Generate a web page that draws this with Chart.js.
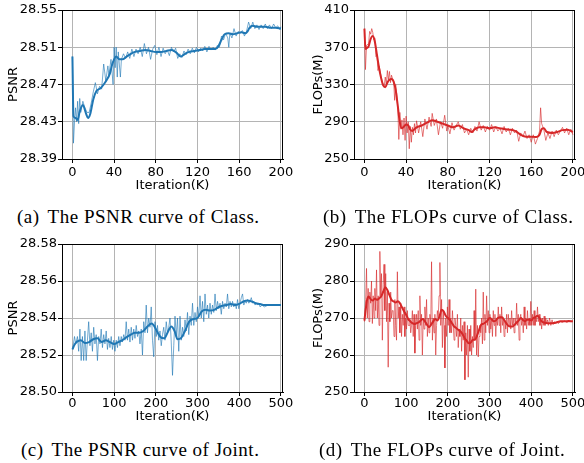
<!DOCTYPE html>
<html>
<head>
<meta charset="utf-8">
<script src="https://cdn.jsdelivr.net/npm/chart.js@4.4.1/dist/chart.umd.min.js"></script>
<style>
  body { margin: 0; background: #fff; width: 584px; height: 463px; position: relative; overflow: hidden; }
  canvas { position: absolute; }
  .cap { position: absolute; font-family: "Liberation Serif", "Times New Roman", serif; font-size: 19px; line-height: 19px;
         letter-spacing: 0.5px; white-space: pre; color: #000; }
  .cap span { margin-left: 8px; }
</style>
</head>
<body>
<canvas id="plot-a" width="300" height="196" style="left:0;top:0"></canvas>
<canvas id="plot-b" width="300" height="196" style="left:292px;top:0"></canvas>
<canvas id="plot-c" width="300" height="195" style="left:0;top:234px"></canvas>
<canvas id="plot-d" width="300" height="195" style="left:292px;top:234px"></canvas>

<div class="cap" style="left:17px;top:207px">(a)<span>The PSNR curve of Class.</span></div>
<div class="cap" style="left:323px;top:207px">(b)<span>The FLOPs curve of Class.</span></div>
<div class="cap" style="left:21px;top:440px">(c)<span>The PSNR curve of Joint.</span></div>
<div class="cap" style="left:319px;top:440px">(d)<span>The FLOPs curve of Joint.</span></div>

<script>
// tick values
const classIterTicks = [0, 40, 80, 120, 160, 200];
const jointIterTicks = [0, 100, 200, 300, 400, 500];
const classPsnrTicks = [28.39, 28.43, 28.47, 28.51, 28.55];
const classFlopsTicks = [250, 290, 330, 370, 410];
const jointPsnrTicks = [28.50, 28.52, 28.54, 28.56, 28.58];
const jointFlopsTicks = [250, 260, 270, 280, 290];

// [iteration(K), value] pairs
const classPsnrRaw = [[0,28.500],[1,28.407],[2,28.430],[3,28.445],[4,28.430],[5,28.452],[6,28.428],[7,28.455],[8,28.440],
  [10,28.452],[12,28.445],[14,28.440],[16,28.440],[18,28.450],[20,28.462],[22,28.472],[24,28.460],[26,28.468],[28,28.465],
  [30,28.492],[32,28.474],[34,28.490],[35,28.480],[37,28.497],[39,28.470],[40,28.510],[41,28.488],[42,28.510],[43,28.478],
  [44,28.505],[46,28.478],[47,28.497],[49,28.503],[51,28.498],[53,28.505],[55,28.498],[57,28.508],[59,28.500],[61,28.508],
  [63,28.503],[65,28.510],[67,28.500],[69,28.514],[71,28.503],[73,28.510],[75,28.497],[77,28.508],[79,28.512],[81,28.502],
  [83,28.510],[85,28.500],[87,28.509],[89,28.503],[91,28.507],[93,28.501],[95,28.510],[97,28.505],[99,28.509],[101,28.498],
  [103,28.503],[105,28.499],[107,28.506],[109,28.502],[111,28.508],[113,28.503],[115,28.509],[117,28.504],[119,28.510],
  [121,28.505],[123,28.509],[125,28.506],[127,28.511],[129,28.505],[131,28.511],[133,28.507],[135,28.510],[137,28.507],
  [139,28.512],[141,28.510],[143,28.522],[145,28.518],[147,28.525],[149,28.520],[150,28.510],[151,28.525],[153,28.520],
  [155,28.530],[157,28.522],[159,28.527],[161,28.525],[163,28.528],[165,28.522],[167,28.527],[169,28.537],[171,28.530],
  [173,28.537],[175,28.530],[177,28.534],[179,28.529],[181,28.534],[183,28.530],[185,28.535],[187,28.530],[189,28.534],
  [191,28.530],[193,28.535],[195,28.531],[197,28.533],[199,28.529],[200,28.532]];
const classPsnrSmooth = [[0,28.500],[1,28.436],[3,28.434],[5,28.432],[7,28.441],[10,28.448],[13,28.439],[15,28.434],
  [17,28.438],[20,28.454],[23,28.463],[27,28.466],[30,28.470],[33,28.475],[36,28.482],[38,28.491],[40,28.497],[42,28.500],
  [45,28.497],[48,28.497],[52,28.500],[56,28.503],[60,28.505],[65,28.506],[70,28.507],[75,28.506],[80,28.505],[85,28.505],
  [90,28.506],[95,28.507],[100,28.504],[104,28.500],[108,28.503],[112,28.505],[117,28.506],[122,28.507],[127,28.508],
  [132,28.508],[137,28.508],[140,28.511],[143,28.518],[146,28.524],[150,28.525],[154,28.524],[158,28.525],[162,28.526],
  [166,28.525],[168,28.527],[170,28.531],[173,28.533],[177,28.532],[181,28.532],[185,28.532],[190,28.531],[195,28.531],
  [200,28.530]];

const classFlopsRaw = [[0,390],[1,346],[2,372],[4,374],[5,387],[6,384],[7,390],[8,386],[9,378],[10,380],[11,360],[12,362],
  [13,345],[14,350],[15,345],[16,338],[17,333],[18,330],[19,328],[20,338],[21,330],[22,345],[23,335],[24,344],[25,332],
  [26,340],[27,336],[28,335],[29,313],[30,330],[31,320],[32,305],[33,271],[34,300],[35,282],[36,292],[37,276],[38,294],
  [39,270],[40,296],[41,278],[42,290],[43,261],[44,285],[45,268],[46,284],[47,276],[48,288],[49,278],[50,291],[52,278],
  [54,290],[56,274],[58,293],[60,282],[62,295],[64,285],[65,299],[67,286],[69,293],[71,276],[73,290],[75,283],[77,297],
  [79,280],[80,286],[82,277],[84,289],[86,281],[88,286],[90,290],[92,282],[94,287],[96,278],[98,282],[100,276],[102,283],
  [104,278],[106,285],[108,280],[110,290],[112,281],[114,286],[116,279],[118,285],[120,281],[122,287],[124,279],[126,285],
  [128,280],[130,283],[132,277],[134,285],[136,279],[138,283],[140,276],[142,283],[144,278],[146,281],[148,269],[150,278],
  [152,274],[154,280],[156,272],[158,276],[160,268],[162,276],[164,266],[166,272],[168,280],[169,305],[170,288],[172,282],
  [174,270],[176,278],[178,272],[180,280],[182,274],[184,281],[186,276],[188,280],[190,284],[192,278],[194,283],[196,276],
  [198,282],[200,276]];
const classFlopsSmooth = [[0,390],[1,368],[2,369],[4,371],[6,379],[8,382],[10,376],[12,362],[14,348],[16,337],[18,329],
  [20,327],[22,332],[24,335],[26,336],[28,333],[30,324],[32,307],[34,289],[36,283],[38,285],[40,287],[42,286],[44,281.5],
  [46,280],[48,282],[50,284],[55,286],[60,289],[65,291.5],[70,290],[75,288],[80,286],[85,284],[90,286],[95,283],[100,281],
  [103,279],[106,282],[110,284],[115,284],[120,283],[125,284],[130,283],[135,282],[140,281.5],[145,280],[150,276],
  [155,274],[160,274],[165,273.5],[168,276],[170,282],[172,283],[175,279],[180,278],[185,279],[190,281],[195,281.5],
  [200,279]];

const jointPsnrRaw = [[0,28.523],[3,28.527],[5,28.530],[8,28.526],[12,28.530],[15,28.522],[18,28.534],[21,28.517],
  [24,28.530],[27,28.517],[30,28.533],[33,28.517],[36,28.528],[39,28.538],[42,28.525],[45,28.532],[48,28.522],[51,28.535],
  [54,28.526],[57,28.531],[60,28.517],[63,28.530],[66,28.526],[69,28.534],[72,28.524],[75,28.531],[78,28.526],[81,28.533],
  [84,28.523],[87,28.529],[90,28.524],[93,28.530],[96,28.523],[99,28.528],[102,28.522],[105,28.528],[108,28.524],
  [111,28.530],[114,28.525],[117,28.530],[120,28.527],[123,28.531],[126,28.528],[129,28.538],[132,28.528],[135,28.534],
  [138,28.527],[141,28.535],[144,28.528],[147,28.534],[150,28.529],[153,28.536],[156,28.530],[159,28.533],[162,28.526],
  [165,28.534],[168,28.520],[171,28.538],[174,28.532],[177,28.547],[180,28.532],[183,28.540],[186,28.535],[189,28.546],
  [192,28.528],[195,28.519],[198,28.538],[201,28.530],[204,28.536],[207,28.528],[210,28.533],[213,28.525],[216,28.531],
  [219,28.535],[222,28.528],[225,28.538],[228,28.532],[231,28.535],[234,28.540],[237,28.527],[240,28.509],[243,28.525],
  [246,28.541],[249,28.530],[252,28.540],[255,28.522],[258,28.541],[261,28.528],[264,28.535],[267,28.530],[270,28.539],
  [273,28.533],[276,28.543],[279,28.531],[282,28.541],[285,28.536],[288,28.548],[291,28.536],[294,28.543],[297,28.538],
  [300,28.546],[303,28.541],[306,28.552],[309,28.540],[312,28.549],[315,28.538],[318,28.553],[321,28.542],[324,28.547],
  [327,28.540],[330,28.548],[333,28.542],[336,28.547],[339,28.543],[342,28.553],[345,28.544],[348,28.549],[351,28.545],
  [354,28.548],[357,28.542],[360,28.549],[363,28.545],[366,28.548],[369,28.546],[372,28.553],[375,28.545],[378,28.549],
  [381,28.546],[384,28.549],[387,28.546],[390,28.548],[393,28.545],[396,28.550],[399,28.545],[402,28.548],[405,28.551],
  [408,28.553],[411,28.547],[414,28.549],[417,28.548],[420,28.550],[423,28.548],[426,28.549],[429,28.551],[432,28.548],
  [435,28.549],[438,28.547],[441,28.548],[444,28.547],[447,28.548],[450,28.546],[455,28.547],[460,28.546],[470,28.547],
  [480,28.547],[490,28.547],[500,28.547]];
const jointPsnrSmooth = [[0,28.523],[5,28.5255],[10,28.527],[20,28.528],[30,28.5265],[40,28.527],[50,28.5285],[60,28.529],
  [70,28.527],[80,28.528],[90,28.527],[100,28.526],[110,28.527],[120,28.528],[130,28.5297],[140,28.531],[150,28.532],
  [160,28.532],[170,28.533],[180,28.5354],[190,28.537],[195,28.536],[200,28.534],[210,28.530],[220,28.529],[230,28.533],
  [237,28.5354],[245,28.533],[252,28.5285],[260,28.529],[270,28.533],[280,28.538],[290,28.5394],[300,28.540],[310,28.5435],
  [320,28.5444],[330,28.544],[340,28.5444],[350,28.5458],[360,28.5466],[370,28.547],[380,28.5476],[390,28.547],
  [400,28.5476],[410,28.5489],[420,28.5494],[430,28.5489],[440,28.548],[450,28.5476],[460,28.547],[480,28.547],
  [500,28.547]];

const jointFlopsRaw = [[0,269],[3,275],[5,283.4],[7,270],[9,278],[11,269],[13,277],[15,274],[17,280],[19,268.5],[21,276],
  [23,270],[25,278],[27,272],[29,283],[31,270],[33,276],[35,268],[37,288],[39,276],[41,282],[43,264],[45,279],[47,284.5],
  [49,272],[51,282],[53,269],[55,277],[57,256.7],[59,274],[61,269],[63,277],[65,270],[67,272],[69,272],[71,265],[73,275],
  [75,268],[77,264],[79,282.5],[81,270],[83,273],[85,266],[87,274],[89,265],[91,271],[93,268],[95,273],[97,265],[99,270],
  [101,267],[103,272],[105,268],[107,268],[109,270],[111,266],[113,268],[115,272],[117,265],[119,271],[121,260.5],[123,268],
  [125,271],[127,267],[129,272],[131,264],[133,276],[135,268],[137,271],[139,260],[141,270],[143,267],[145,273],[147,268],
  [149,275],[151,265],[153,270],[155,266],[157,271],[159,268],[161,285.2],[163,264],[165,270],[167,266],[169,271],[171,260],
  [173,268],[175,272],[177,270],[179,276],[181,285],[183,268],[185,275],[187,262],[189,272],[191,268],[193,256.5],[195,270],
  [197,265],[199,273],[201,268],[203,275],[205,266],[207,270],[209,266],[211,272],[213,268],[215,264],[217,270],[219,268],
  [221,265],[223,271],[225,262],[227,267],[229,265],[231,270],[233,261],[235,268],[237,264],[239,269],[241,253.3],[243,266],
  [245,260],[247,268],[249,254],[251,267],[253,261],[255,268],[257,260],[259,265],[261,262],[263,272],[265,264],[267,277.8],
  [269,260],[271,268],[273,259.5],[275,265],[277,268],[279,266],[281,270],[283,263],[285,277],[287,264],[289,271],[291,266],
  [293,276],[295,268],[297,272],[299,266],[301,271],[303,267],[305,270],[307,265],[309,272],[311,268],[313,271],[315,265],
  [317,270],[319,268],[321,273],[323,268],[325,271],[327,266],[329,273],[331,268],[333,270],[335,265],[337,269],[339,267],
  [341,271],[343,266],[345,271],[347,268],[349,270],[351,267],[353,272],[355,268],[357,270],[359,266],[361,270],[363,268],
  [365,274],[367,268],[369,271],[371,264],[373,270],[375,271],[377,268],[379,270],[381,266],[383,273],[385,268],[387,270],
  [389,267],[391,272],[393,268],[395,270],[397,268],[399,274.5],[401,268],[403,271],[405,268],[407,272],[409,268],[411,270],
  [413,269],[415,273],[417,269],[419,271],[421,268],[423,270],[425,267],[427,270],[429,268],[431,270.5],[433,268],[435,270],
  [437,268.5],[439,269.5],[441,268],[444,270],[447,268],[450,269.5],[453,268.3],[456,269],[459,268.5],[462,269],[465,268.5],
  [470,269],[475,268.8],[480,269.2],[485,268.8],[490,269],[495,269],[500,269]];
const jointFlopsSmooth = [[0,269.3],[3,272.2],[6,274.7],[10,275.8],[15,275.1],[20,274.7],[25,275.3],[30,274.9],[35,275.3],
  [40,275.8],[45,277.1],[50,278.3],[55,277.6],[60,276.2],[65,274.9],[70,274.5],[75,274.2],[80,274.5],[85,274],[90,272.9],
  [95,271.8],[100,270.9],[105,269.7],[110,269.1],[115,268.6],[120,268.4],[125,268.6],[130,268.8],[135,269.3],[140,269.7],
  [145,269.1],[150,268.2],[155,267.5],[160,268.2],[165,269.1],[170,269.7],[175,269.3],[180,270.4],[185,272.2],[190,271.8],
  [195,270.6],[200,270],[205,269.5],[210,268.6],[215,267.7],[220,267.3],[225,266.8],[230,266.4],[235,265.7],[240,264.6],
  [245,263.9],[250,263.2],[255,263.4],[260,264.1],[265,264.1],[270,265.2],[275,266.8],[280,268.2],[285,268.4],[290,268.8],
  [295,269.3],[300,270],[305,269.7],[310,269.1],[315,269.3],[320,270],[325,270.2],[330,270.2],[335,269.5],[340,268.6],
  [345,267.9],[350,267.7],[355,267.7],[360,268.2],[365,268.8],[370,269.3],[375,270],[380,269.5],[385,269.1],[390,269.5],
  [395,269.5],[400,269.3],[405,270],[410,270.2],[415,270.6],[420,270],[425,269.1],[430,268.8],[440,268.6],[450,268.6],
  [460,268.8],[470,269.1],[480,269.1],[490,269.2],[500,269.1]];

const BLUE = '#1f77b4', BLUE_LIGHT = 'rgba(31,119,180,0.62)';
const RED = '#d62728', RED_LIGHT = 'rgba(214,39,40,0.62)';
const GRID = '#b4b4b4';
const tickFont = { family: 'DejaVu Sans', size: 13 };

const toXY = pairs => pairs.map(([x, y]) => ({ x, y }));

// black box round the plot area
const framePlugin = {
  id: 'frame',
  afterDraw(chart) {
    const a = chart.chartArea;
    const ctx = chart.ctx;
    ctx.save();
    ctx.strokeStyle = '#000';
    ctx.lineWidth = 1;
    ctx.strokeRect(a.left + 0.5, a.top + 0.5, a.right - a.left - 1, a.bottom - a.top);
    ctx.restore();
  }
};

function makePlot(id, p) {
  new Chart(document.getElementById(id), {
    type: 'line',
    data: {
      datasets: [
        { data: toXY(p.smooth), borderColor: p.color, borderWidth: 2, pointRadius: 0,
          cubicInterpolationMode: 'monotone', order: 1 },
        { data: toXY(p.raw), borderColor: p.light, borderWidth: 1, pointRadius: 0, tension: 0, order: 2 }
      ]
    },
    options: {
      responsive: false,
      animation: false,
      events: [],
      layout: { padding: { left: 0, top: 10, right: 17, bottom: 0 } },
      plugins: { legend: { display: false }, tooltip: { enabled: false } },
      scales: {
        x: {
          type: 'linear', min: p.xMin, max: p.xMax,
          afterBuildTicks: s => { s.ticks = p.xTicks.map(v => ({ value: v })); },
          afterFit: s => { s.height = p.xAxisH; },
          ticks: { font: tickFont, color: '#000', padding: p.xTickPad, maxRotation: 0, autoSkip: false,
                   callback: v => String(v) },
          grid: { color: GRID, lineWidth: 1, tickColor: '#000', tickLength: 4 },
          border: { color: '#000', width: 1 },
          title: { display: true, text: 'Iteration(K)', font: tickFont, color: '#000',
                   padding: { top: 0, bottom: p.xTitlePad } }
        },
        y: {
          type: 'linear', min: p.yTicks[0], max: p.yTicks[p.yTicks.length - 1],
          afterBuildTicks: s => { s.ticks = p.yTicks.map(v => ({ value: v })); },
          afterFit: s => { s.width = 62; },
          ticks: { font: tickFont, color: '#000', padding: 1, autoSkip: false, callback: p.yFmt },
          grid: { color: GRID, lineWidth: 1, tickColor: '#000', tickLength: 4 },
          border: { color: '#000', width: 1 },
          title: { display: true, text: p.yLabel, font: tickFont, color: '#000',
                   padding: { top: p.yTitlePad, bottom: 0 } }
        }
      }
    },
    plugins: [framePlugin]
  });
}

const psnrFmt = v => v.toFixed(2);
const flopsFmt = v => String(v);

makePlot('plot-a', { raw: classPsnrRaw, smooth: classPsnrSmooth, color: BLUE, light: BLUE_LIGHT,
  xMin: -10, xMax: 202, xTicks: classIterTicks, yTicks: classPsnrTicks, yFmt: psnrFmt, yLabel: 'PSNR',
  yTitlePad: 6, xAxisH: 37, xTickPad: 2, xTitlePad: 3 });
makePlot('plot-b', { raw: classFlopsRaw, smooth: classFlopsSmooth, color: RED, light: RED_LIGHT,
  xMin: -10, xMax: 202, xTicks: classIterTicks, yTicks: classFlopsTicks, yFmt: flopsFmt, yLabel: 'FLOPs(M)',
  yTitlePad: 19, xAxisH: 37, xTickPad: 2, xTitlePad: 3 });
makePlot('plot-c', { raw: jointPsnrRaw, smooth: jointPsnrSmooth, color: BLUE, light: BLUE_LIGHT,
  xMin: -25, xMax: 505, xTicks: jointIterTicks, yTicks: jointPsnrTicks, yFmt: psnrFmt, yLabel: 'PSNR',
  yTitlePad: 6, xAxisH: 37, xTickPad: 0, xTitlePad: 5 });
makePlot('plot-d', { raw: jointFlopsRaw, smooth: jointFlopsSmooth, color: RED, light: RED_LIGHT,
  xMin: -25, xMax: 505, xTicks: jointIterTicks, yTicks: jointFlopsTicks, yFmt: flopsFmt, yLabel: 'FLOPs(M)',
  yTitlePad: 19, xAxisH: 37, xTickPad: 0, xTitlePad: 5 });
</script>
</body>
</html>
